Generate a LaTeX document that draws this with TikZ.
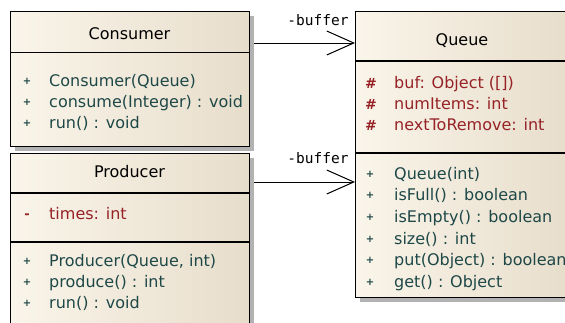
\documentclass[tikz,border=0pt]{standalone}
\usepackage{fontspec}
\setmainfont{DejaVu Sans}
\newfontfamily\labelfont{DejaVu Sans Mono}
\usetikzlibrary{arrows.meta}

\definecolor{boxL}{RGB}{250,245,234}
\definecolor{boxR}{RGB}{231,221,203}
\definecolor{attrred}{RGB}{150,34,38}
\definecolor{opteal}{RGB}{30,72,72}
\definecolor{shade}{RGB}{178,178,178}

\tikzset{
  classbox/.style={rectangle, anchor=north west, inner sep=0pt, draw=black,
    line width=1.2pt, left color=boxL, right color=boxR},
  shadowbox/.style={fill=shade, draw=none},
  sep/.style={draw=black, line width=1.2pt},
  title/.style={anchor=base, inner sep=0pt, text=black,
    font=\fontsize{16}{18}\selectfont},
  attr/.style={anchor=base west, inner sep=0pt, text=attrred,
    font=\fontsize{16}{18}\selectfont},
  oper/.style={anchor=base west, inner sep=0pt, text=opteal,
    font=\fontsize{16}{18}\selectfont},
  pubmark/.style={anchor=base, inner sep=0pt, text=opteal,
    font=\bfseries\fontsize{10}{11}\selectfont},
  protmark/.style={anchor=base, inner sep=0pt, text=attrred,
    font=\bfseries\fontsize{14}{16}\selectfont},
  privmark/.style={anchor=base, inner sep=0pt, text=attrred,
    font=\bfseries\fontsize{13}{15}\selectfont},
  rolelabel/.style={anchor=base, inner sep=0pt, text=black,
    font=\labelfont\fontsize{14.5}{16}\selectfont},
  assoc/.style={draw=black, line width=1pt,
    -{Straight Barb[length=27pt, width=24pt, line width=1pt]}},
}

\begin{document}
\begin{tikzpicture}[x=1pt, y=-1pt]
  \clip (0,0) rectangle (565,322);
  \fill[white] (0,0) rectangle (565,322);

  % drop shadows
  \fill[shadowbox] (15,16) rectangle (254,151);
  \fill[shadowbox] (15,158) rectangle (254,330);
  \fill[shadowbox] (360,16) rectangle (574,302);

  % ---- Consumer ----
  \node[classbox, minimum width=239pt, minimum height=135pt] (consumer) at (10,11) {};
  \draw[sep] ([yshift=-41.5pt]consumer.north west) -- ([yshift=-41.5pt]consumer.north east);
  \node[title] (consumerTitle) at (129.5,39) {Consumer};
  \node[pubmark] (cm1) at (27,84) {+};
  \node[oper] (co1) at (49,86) {Consumer(Queue)};
  \node[pubmark] (cm2) at (27,105) {+};
  \node[oper] (co2) at (49,107) {consume(Integer) : void};
  \node[pubmark] (cm3) at (27,126) {+};
  \node[oper] (co3) at (49,128) {run() : void};

  % ---- Producer ----
  \node[classbox, minimum width=239pt, minimum height=172pt] (producer) at (10,153) {};
  \draw[sep] ([yshift=-40pt]producer.north west) -- ([yshift=-40pt]producer.north east);
  \draw[sep] ([yshift=-89pt]producer.north west) -- ([yshift=-89pt]producer.north east);
  \node[title] (producerTitle) at (129.5,177) {Producer};
  \node[privmark] (pa1m) at (27,218) {-};
  \node[attr] (pa1) at (49,219) {times: int};
  \node[pubmark] (pm1) at (27,264) {+};
  \node[oper] (po1) at (49,266) {Producer(Queue, int)};
  \node[pubmark] (pm2) at (27,285) {+};
  \node[oper] (po2) at (49,287) {produce() : int};
  \node[pubmark] (pm3) at (27,306) {+};
  \node[oper] (po3) at (49,308) {run() : void};

  % ---- Queue ----
  \node[classbox, minimum width=214pt, minimum height=286pt] (queue) at (355,11) {};
  \draw[sep] ([yshift=-50pt]queue.north west) -- ([yshift=-50pt]queue.north east);
  \draw[sep] ([yshift=-142pt]queue.north west) -- ([yshift=-142pt]queue.north east);
  \node[title] (queueTitle) at (462,45) {Queue};
  \node[protmark] (qa1m) at (371,88) {\#};
  \node[attr] (qa1) at (394,88) {buf: Object ([])};
  \node[protmark] (qa2m) at (371,109) {\#};
  \node[attr] (qa2) at (394,109) {numItems: int};
  \node[protmark] (qa3m) at (371,130) {\#};
  \node[attr] (qa3) at (394,130) {nextToRemove: int};
  \node[pubmark] (qm1) at (370,177) {+};
  \node[oper] (qo1) at (394,179) {Queue(int)};
  \node[pubmark] (qm2) at (370,198.5) {+};
  \node[oper] (qo2) at (394,200.5) {isFull() : boolean};
  \node[pubmark] (qm3) at (370,220) {+};
  \node[oper] (qo3) at (394,222) {isEmpty() : boolean};
  \node[pubmark] (qm4) at (370,242) {+};
  \node[oper] (qo4) at (394,244) {size() : int};
  \node[pubmark] (qm5) at (370,263.5) {+};
  \node[oper] (qo5) at (394,265.5) {put(Object) : boolean};
  \node[pubmark] (qm6) at (370,285) {+};
  \node[oper] (qo6) at (394,287) {get() : Object};

  % ---- associations ----
  \coordinate (consumerOut) at (254,43);
  \coordinate (producerOut) at (254,182);
  \draw[assoc] (consumerOut) -- (queue.west |- consumerOut);
  \draw[assoc] (producerOut) -- (queue.west |- producerOut);
  \node[rolelabel] (roleA) at (318,25) {-buffer};
  \node[rolelabel] (roleB) at (318,163) {-buffer};
\end{tikzpicture}
\end{document}
